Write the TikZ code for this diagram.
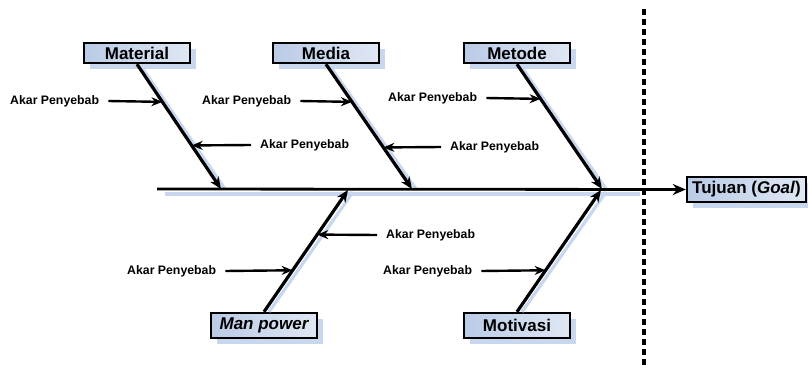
\documentclass[tikz,border=0pt]{standalone}
\usepackage{fontspec}
\setmainfont{Liberation Sans}
\usetikzlibrary{arrows.meta,calc,shadows}
\definecolor{shd}{HTML}{C9D7EE}
\definecolor{boxl}{HTML}{BACBE6}
\definecolor{boxr}{HTML}{DFE7F3}
\begin{document}
\begin{tikzpicture}[x=1pt,y=-1pt,
  cbox/.style={draw=black, line width=2.4pt, left color=boxl, right color=boxr,
    minimum width=106pt, inner sep=0pt,
    font=\fontsize{17}{18}\selectfont\bfseries,
    drop shadow={shadow xshift=6pt, shadow yshift=-6pt, fill=shd, opacity=1}},
  topbox/.style={cbox, minimum height=20pt},
  botbox/.style={cbox, minimum height=25pt},
  bone/.style={line width=3.2pt, -{Stealth[length=12pt,width=10pt]}},
  boneshd/.style={line width=3.2pt, shd},
  akartxt/.style={inner sep=0pt, font=\fontsize{12.3}{13}\selectfont\bfseries},
  akar/.style={line width=2.4pt, -{Stealth[length=11pt,width=9pt]}}
]
\useasboundingbox (0,0) rectangle (808,369);

% boxes
\node[topbox] (mat) at (137,53) {Material};
\node[topbox] (med) at (326,53) {Media};
\node[topbox] (met) at (517,53) {Metode};
\node[botbox] (man) at (264,325.5) {\itshape Man power};
\node[botbox] (mot) at (517,325.5) {Motivasi};
\node[cbox, minimum width=119pt, minimum height=25pt] (goal) at (746.5,189.5) {Tujuan (\textit{Goal})};

% coordinates
\coordinate (sp0) at (157,189);
\coordinate (b1e) at (221,189);
\coordinate (b2e) at (412,189);
\coordinate (b3e) at (602,189);
\coordinate (b4e) at (348,190);
\coordinate (b5e) at (601,190);
\coordinate (dt) at (644,9);
\coordinate (db) at (644,369);

% shadows of lines
\draw[boneshd] (165,194) -- (640,194);
\draw[boneshd] ($(mat.south)+(4,2)$) -- ($(b1e)+(4,0)$);
\draw[boneshd] ($(med.south)+(4,2)$) -- ($(b2e)+(4,0)$);
\draw[boneshd] ($(met.south)+(4,2)$) -- ($(b3e)+(4,0)$);
\draw[boneshd] ($(man.north)+(5,0)$) -- ($(b4e)+(5,2)$);
\draw[boneshd] ($(mot.north)+(5,0)$) -- ($(b5e)+(5,2)$);

% dotted separator
\draw[line width=4pt, dash pattern=on 6pt off 4pt] (dt) -- (db);

% spine
\draw[line width=2.8pt, -{Stealth[length=13pt,width=11pt]}] (sp0) -- (goal.west);

% bones
\draw[bone] (mat.south) -- (b1e);
\draw[bone] (med.south) -- (b2e);
\draw[bone] (met.south) -- (b3e);
\draw[bone] (man.north) -- (b4e);
\draw[bone] (mot.north) -- (b5e);

% root causes
\node[akartxt, anchor=west] (a1) at (10,101) {Akar Penyebab};
\node[akartxt, anchor=west] (a2) at (260,145) {Akar Penyebab};
\node[akartxt, anchor=west] (a3) at (202,101) {Akar Penyebab};
\node[akartxt, anchor=west] (a4) at (450,147) {Akar Penyebab};
\node[akartxt, anchor=west] (a5) at (388,98) {Akar Penyebab};
\node[akartxt, anchor=west] (a6) at (386,235) {Akar Penyebab};
\node[akartxt, anchor=west] (a7) at (127,271) {Akar Penyebab};
\node[akartxt, anchor=west] (a8) at (383,271) {Akar Penyebab};

\draw[akar] ($(a1.east)+(9,0)$) -- ($(mat.south)!0.302!(b1e)$);
\draw[akar] ($(a2.west)+(-9,0)$) -- ($(mat.south)!0.651!(b1e)$);
\draw[akar] ($(a3.east)+(9,0)$) -- ($(med.south)!0.302!(b2e)$);
\draw[akar] ($(a4.west)+(-9,0)$) -- ($(med.south)!0.667!(b2e)$);
\draw[akar] ($(a5.east)+(9,0)$) -- ($(met.south)!0.278!(b3e)$);
\draw[akar] ($(a6.west)+(-9,0)$) -- ($(man.north)!0.634!(b4e)$);
\draw[akar] ($(a7.east)+(9,0)$) -- ($(man.north)!0.341!(b4e)$);
\draw[akar] ($(a8.east)+(9,0)$) -- ($(mot.north)!0.341!(b5e)$);
\end{tikzpicture}
\end{document}
